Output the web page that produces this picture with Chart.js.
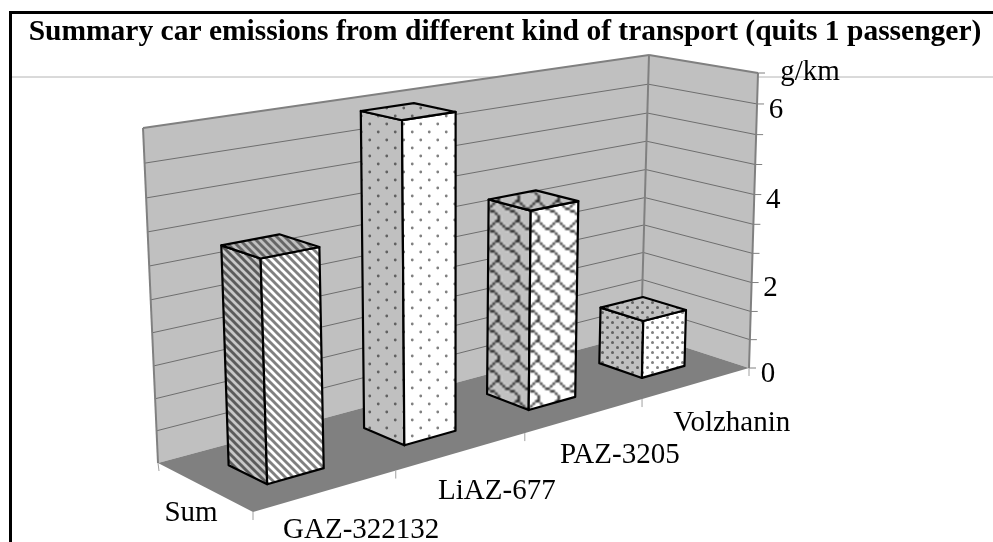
<!DOCTYPE html>
<html>
<head>
<meta charset="utf-8">
<style>
    body { margin: 0; background: #fff; }
    canvas { display: block; }
</style>
<script src="https://cdn.jsdelivr.net/npm/chart.js@4"></script>
</head>
<body>
<canvas id="chartEmissions" width="993" height="542"></canvas>
<script>
const titel = 'Summary car emissions from different kind of transport (quits 1 passenger)';
const categories = ['GAZ-322132', 'LiAZ-677', 'PAZ-3205', 'Volzhanin'];
const serieNaam = 'Sum';
const emissions = [4.43, 6.6, 4.32, 1.32];
const yTickValues = [0, 0.67, 1.33, 2, 2.67, 3.33, 4, 4.67, 5.33, 6, 6.67];
const yTickLabels = ['0', '', '', '2', '', '', '4', '', '', '6', 'g/km'];
const yMax = 6.67;

// screen corners of the 3D box: floor and top plane
const floorQuad = [[253, 512], [749, 368], [641, 333], [158, 463]];
const topQuad = [[241, 154], [758, 73], [649, 55], [143, 128]];
const perspectiveK = 1.05;
const perspectiveA = 0.96;
const depthFront = 0.3;
const depthBack = 0.7;

function quadMap(q) {
    // square to quad homography
    const [p0, p1, p2, p3] = q;
    const sx = p0[0] - p1[0] + p2[0] - p3[0];
    const sy = p0[1] - p1[1] + p2[1] - p3[1];
    const dx1 = p1[0] - p2[0], dx2 = p3[0] - p2[0];
    const dy1 = p1[1] - p2[1], dy2 = p3[1] - p2[1];
    const det = dx1 * dy2 - dx2 * dy1;
    const g = (sx * dy2 - dx2 * sy) / det;
    const h = (dx1 * sy - sx * dy1) / det;
    return function (u, v) {
        const w = g * u + h * v + 1;
        return [
            ((p1[0] - p0[0] + g * p1[0]) * u + (p3[0] - p0[0] + h * p3[0]) * v + p0[0]) / w,
            ((p1[1] - p0[1] + g * p1[1]) * u + (p3[1] - p0[1] + h * p3[1]) * v + p0[1]) / w
        ];
    };
}
const floorMap = quadMap(floorQuad);
const topMap = quadMap(topQuad);

// a along the categories, d into the depth, t up the value axis (all 0..1)
function project(a, d, t) {
    const w = t / (t + perspectiveK * (1 - t));
    const u = a / (a + perspectiveA * (1 - a));
    const f = floorMap(u, d);
    const o = topMap(u, d);
    return [f[0] + (o[0] - f[0]) * w, f[1] + (o[1] - f[1]) * w];
}

function makeTile(w, h, bg, draw) {
    const c = document.createElement('canvas');
    c.width = w;
    c.height = h;
    const g = c.getContext('2d');
    g.fillStyle = bg;
    g.fillRect(0, 0, w, h);
    draw(g);
    return c;
}

function stripes(bg, fg) {
    return makeTile(8, 8, bg, g => {
        g.strokeStyle = fg;
        g.lineWidth = 2.9;
        for (const o of [-8, 0, 8]) {
            g.beginPath();
            g.moveTo(o - 1, -1);
            g.lineTo(o + 9, 9);
            g.stroke();
        }
    });
}

function dots(w, h, r, bg, fg) {
    return makeTile(w, h, bg, g => {
        g.fillStyle = fg;
        for (const [x, y] of [[w / 4, h / 4], [w * 3 / 4, h * 3 / 4]]) {
            g.beginPath();
            g.arc(x, y, r, 0, Math.PI * 2);
            g.fill();
        }
    });
}

function shingle(bg, fg) {
    const rows = [0x03, 0x84, 0x48, 0x30, 0x0C, 0x02, 0x01, 0x01];
    const s = 20;
    const small = document.createElement('canvas');
    small.width = 24;
    small.height = 24;
    const sg = small.getContext('2d');
    sg.fillStyle = bg;
    sg.fillRect(0, 0, 24, 24);
    sg.fillStyle = fg;
    for (let ty = 0; ty < 3; ty++) {
        for (let tx = 0; tx < 3; tx++) {
            rows.forEach((bits, y) => {
                for (let x = 0; x < 8; x++) {
                    if (bits & (0x80 >> x)) sg.fillRect(tx * 8 + x, ty * 8 + y, 1, 1);
                }
            });
        }
    }
    return makeTile(s, s, bg, g => {
        g.imageSmoothingEnabled = true;
        g.imageSmoothingQuality = 'high';
        g.drawImage(small, -s, -s, s * 3, s * 3);
    });
}

const barTiles = [
    {left: stripes('#c8c8c8', '#5c5c5c'), right: stripes('#ffffff', '#808080'), top: stripes('#c0c0c0', '#666666')},
    {left: dots(17, 16, 1.4, '#c0c0c0', '#606060'), right: dots(17, 16, 1.4, '#ffffff', '#808080'), top: dots(17, 16, 1.4, '#c0c0c0', '#606060')},
    {left: shingle('#c0c0c0', '#303030'), right: shingle('#ffffff', '#404040'), top: shingle('#c0c0c0', '#303030')},
    {left: dots(10, 10, 1.5, '#c0c0c0', '#606060'), right: dots(10, 10, 1.5, '#ffffff', '#808080'), top: dots(10, 10, 1.5, '#c0c0c0', '#606060')}
];

function poly(ctx, pts, fill, stroke, lw) {
    ctx.beginPath();
    pts.forEach((p, i) => i ? ctx.lineTo(p[0], p[1]) : ctx.moveTo(p[0], p[1]));
    ctx.closePath();
    if (fill) {
        ctx.fillStyle = fill;
        ctx.fill();
    }
    if (stroke) {
        ctx.strokeStyle = stroke;
        ctx.lineWidth = lw;
        ctx.lineJoin = 'round';
        ctx.stroke();
    }
}

function line(ctx, p, q, color, lw) {
    ctx.beginPath();
    ctx.moveTo(p[0], p[1]);
    ctx.lineTo(q[0], q[1]);
    ctx.strokeStyle = color;
    ctx.lineWidth = lw;
    ctx.stroke();
}

function label(ctx, text, x, y) {
    ctx.fillStyle = '#000';
    ctx.font = '29px "Liberation Serif"';
    ctx.textAlign = 'center';
    ctx.textBaseline = 'middle';
    ctx.fillText(text, x, y);
}

const box3d = {
    id: 'box3d',
    beforeDatasetsDraw(chart) {
        const ctx = chart.ctx;
        const y = chart.scales.y;
        const tOf = v => (y.bottom - y.getPixelForValue(v)) / (y.bottom - y.top);

        // frame around the figure
        line(ctx, [11, 77], [993, 77], '#b4b4b4', 1);
        line(ctx, [9, 12.5], [993, 12.5], '#000', 3);
        line(ctx, [10.5, 11], [10.5, 542], '#000', 3);

        // walls and floor
        poly(ctx, [project(0, 1, 0), project(1, 1, 0), project(1, 1, 1), project(0, 1, 1)], '#c0c0c0');
        poly(ctx, [project(1, 1, 0), project(1, 0, 0), project(1, 0, 1), project(1, 1, 1)], '#c0c0c0');
        poly(ctx, [project(0, 0, 0), project(1, 0, 0), project(1, 1, 0), project(0, 1, 0)], '#808080');

        // gridlines with their tick marks
        y.ticks.forEach(tick => {
            const t = tOf(tick.value);
            if (t > 0 && t < 1) {
                line(ctx, project(0, 1, t), project(1, 1, t), '#6e6e6e', 1);
                line(ctx, project(1, 1, t), project(1, 0, t), '#6e6e6e', 1);
            }
            const p = project(1, 0, t);
            line(ctx, p, [p[0] + 7, p[1]], '#808080', 1);
        });

        // wall outline
        line(ctx, project(0, 1, 0), project(0, 1, 1), '#808080', 2);
        line(ctx, project(0, 1, 1), project(1, 1, 1), '#808080', 2);
        line(ctx, project(1, 1, 0), project(1, 1, 1), '#808080', 2);
        line(ctx, project(1, 1, 1), project(1, 0, 1), '#808080', 2);
        line(ctx, project(1, 0, 1), project(1, 0, 0), '#808080', 2);

        // category and depth ticks
        for (let i = 0; i <= categories.length; i++) {
            const p = project(i / categories.length, 0, 0);
            line(ctx, p, [p[0], p[1] + 8], '#a0a0a0', 1);
        }
        const b = project(0, 1, 0);
        line(ctx, b, [b[0] + 1, b[1] + 8], '#a0a0a0', 1);
    },
    afterDatasetsDraw(chart) {
        const ctx = chart.ctx;
        const x = chart.scales.x;
        const y = chart.scales.y;
        const tOf = v => (y.bottom - y.getPixelForValue(v)) / (y.bottom - y.top);
        const aOf = px => (px - x.left) / (x.right - x.left);

        chart.getDatasetMeta(0).data.forEach((bar, i) => {
            const a0 = aOf(bar.x - bar.width / 2);
            const a1 = aOf(bar.x + bar.width / 2);
            const t = tOf(emissions[i]);
            const tile = barTiles[i];
            const pat = c => ctx.createPattern(c, 'repeat');
            const faces = [
                [[project(a0, depthBack, 0), project(a0, depthFront, 0), project(a0, depthFront, t), project(a0, depthBack, t)], tile.left],
                [[project(a0, depthFront, 0), project(a1, depthFront, 0), project(a1, depthFront, t), project(a0, depthFront, t)], tile.right],
                [[project(a0, depthFront, t), project(a1, depthFront, t), project(a1, depthBack, t), project(a0, depthBack, t)], tile.top]
            ];
            faces.forEach(f => poly(ctx, f[0], pat(f[1]), '#000', 2.2));
        });

        // axis texts
        y.ticks.forEach(tick => {
            if (!tick.label) return;
            const p = project(1, 0, tOf(tick.value));
            if (tick.label === 'g/km') {
                label(ctx, tick.label, p[0] + 52, p[1] - 1);
            } else {
                label(ctx, tick.label, p[0] + 19, p[1] + 6);
            }
        });
        x.ticks.forEach((tick, i) => {
            const p = project(aOf(x.getPixelForTick(i)), 0, 0);
            label(ctx, categories[i], p[0] + 35, p[1] + 40);
        });
        const s = project(0, 0.5, 0);
        label(ctx, serieNaam, s[0] - 13, s[1] + 27);
    }
};

const chartEmissions = new Chart(document.getElementById('chartEmissions').getContext('2d'), {
    type: 'bar',
    data: {
        labels: categories,
        datasets: [
            {
                label: serieNaam,
                data: emissions,
                backgroundColor: 'transparent',
                barPercentage: 0.4,
                categoryPercentage: 1
            }
        ]
    },
    options: {
        responsive: false,
        animation: false,
        layout: {
            padding: {left: 17, top: 15, bottom: 174}
        },
        scales: {
            x: {
                display: false
            },
            y: {
                display: false,
                min: 0,
                max: yMax,
                afterBuildTicks: function (scale) {
                    scale.ticks = yTickValues.map(v => ({value: v}));
                },
                ticks: {
                    callback: function (value, index) {
                        return yTickLabels[index];
                    }
                }
            }
        },
        plugins: {
            legend: {
                display: false
            },
            tooltip: {
                enabled: false
            },
            title: {
                display: true,
                text: titel,
                color: '#000',
                font: {family: '"Liberation Serif"', size: 29.5, weight: 'bold'},
                padding: {top: 0, bottom: 22.6}
            }
        }
    },
    plugins: [box3d]
});
</script>
</body>
</html>
